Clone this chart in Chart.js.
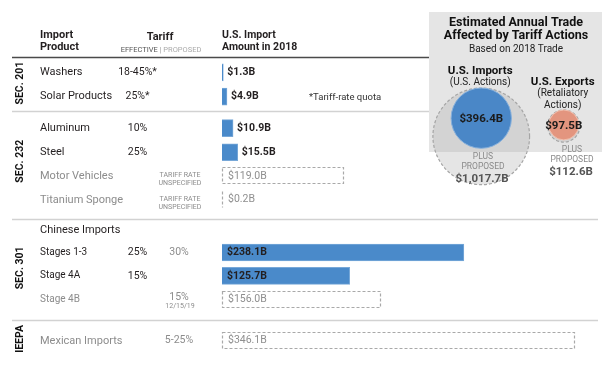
<!DOCTYPE html>
<html>
<head>
<meta charset="utf-8">
<script src="https://cdn.jsdelivr.net/npm/chart.js@4.4.1/dist/chart.umd.min.js"></script>
<style>
  html, body { margin: 0; padding: 0; background: #fff; }
  #wrap { position: relative; width: 614px; height: 365px; }
  #wrap canvas { position: absolute; left: 0; top: 0; }
</style>
</head>
<body>
<div id="wrap">
  <canvas id="cntTariff_Bars" width="614" height="365"></canvas>
  <canvas id="cntTariff_Bubbles" width="614" height="365"></canvas>
</div>
<script>
  // datos
  const sections = ['SEC. 201', 'SEC. 232', 'SEC. 301', 'IEEPA'];
  const products = ['Washers', 'Solar Products', 'Aluminum', 'Steel', 'Motor Vehicles', 'Titanium Sponge',
                    'Stages 1-3', 'Stage 4A', 'Stage 4B', 'Mexican Imports'];
  const importAmount = [1.3, 4.9, 10.9, 15.5, 119.0, 0.2, 238.1, 125.7, 156.0, 346.1];
  const proposedOnly = [false, false, false, false, true, true, false, false, true, true];
  const tariffEffective = ['18-45%*', '25%*', '10%', '25%', '', '', '25%', '15%', '', ''];
  const tariffProposed = [[], [], [], [], ['TARIFF RATE', 'UNSPECIFIED'], ['TARIFF RATE', 'UNSPECIFIED'],
                          ['30%'], [], ['15%', '12/15/19'], ['5-25%']];
  const subHeader = 'Chinese Imports';

  const tradeGroups = ['U.S. Imports', 'U.S. Exports'];
  const tradeNotes = [['(U.S. Actions)'], ['(Retaliatory', 'Actions)']];
  const tradeCurrent = [396.4, 97.5];
  const tradeWithProposed = [1017.7, 112.6];

  // layout (filas en unidades de fila)
  const ROW_SLOT = [0.65, 1.67, 3.0, 4.02, 5.02, 6.03, 8.25, 9.24, 10.23, 11.98];
  const SUBHEADER_SLOT = 7.3;
  const SECTION_SLOT = [1.1, 4.4, 8.9, 11.9];
  const RULE_SLOT = [2.27, 6.82, 11.1];

  const FONT = 'Roboto, "Noto Sans", sans-serif';
  const DARK = '#231f20', GRAY = '#8c8c8c', BLUE = '#4a8aca';

  function txt(ctx, s, x, y, size, weight, color, align) {
    ctx.font = weight + ' ' + size + 'px ' + FONT;
    ctx.fillStyle = color;
    ctx.textAlign = align || 'left';
    ctx.textBaseline = 'middle';
    ctx.fillText(s, x, y);
  }

  const effData = [], propData = [];
  products.forEach(function (p, i) {
    const pt = { x: importAmount[i], y: ROW_SLOT[i] };
    if (proposedOnly[i]) propData.push(pt); else effData.push(pt);
  });

  const tablePlugin = {
    id: 'tabla',
    afterDraw: function (chart) {
      const ctx = chart.ctx, yS = chart.scales.y;
      ctx.save();

      // cajas punteadas de lo propuesto
      const meta = chart.getDatasetMeta(1);
      ctx.setLineDash([3, 2]);
      ctx.strokeStyle = '#a9a9a9';
      ctx.lineWidth = 1.2;
      meta.data.forEach(function (el) {
        const p = el.getProps(['x', 'base', 'y', 'height'], true);
        const x0 = Math.round(p.base) + 0.5, x1 = Math.round(p.x) + 0.5;
        const y0 = Math.round(p.y - p.height / 2) + 0.5, y1 = Math.round(p.y + p.height / 2) - 0.5;
        ctx.beginPath();
        if (x1 - x0 < 2) { ctx.moveTo(x0, y0); ctx.lineTo(x0, y1); }
        else ctx.rect(x0, y0, x1 - x0, y1 - y0);
        ctx.stroke();
      });
      ctx.setLineDash([]);

      // lineas
      ctx.strokeStyle = '#4a4a4a';
      ctx.lineWidth = 1.3;
      ctx.beginPath(); ctx.moveTo(12, 57.5); ctx.lineTo(430, 57.5); ctx.stroke();
      ctx.strokeStyle = '#d2d2d2';
      ctx.lineWidth = 1.5;
      RULE_SLOT.forEach(function (s) {
        const y = Math.round(yS.getPixelForValue(s)) + 0.5;
        ctx.beginPath(); ctx.moveTo(12, y); ctx.lineTo(598, y); ctx.stroke();
      });

      // encabezados
      txt(ctx, 'Import', 40, 35, 11, 'bold', DARK);
      txt(ctx, 'Product', 40, 47, 11, 'bold', DARK);
      txt(ctx, 'Tariff', 160, 37, 11, 'bold', DARK, 'center');
      ctx.font = '7.5px ' + FONT;
      const wE = ctx.measureText('EFFECTIVE ').width, wB = ctx.measureText('| ').width;
      const wP = ctx.measureText('PROPOSED').width;
      let hx = 161 - (wE + wB + wP) / 2;
      txt(ctx, 'EFFECTIVE ', hx, 50.5, 7.5, 'normal', '#555'); hx += wE;
      txt(ctx, '| ', hx, 50.5, 7.5, 'normal', '#999'); hx += wB;
      txt(ctx, 'PROPOSED', hx, 50.5, 7.5, 'normal', '#aaa');
      txt(ctx, 'U.S. Import', 222, 35, 10.5, 'bold', DARK);
      txt(ctx, 'Amount in 2018', 222, 47, 10.5, 'bold', DARK);
      txt(ctx, '*Tariff-rate quota', 309, 98, 9.5, 'normal', '#333');

      // secciones (vertical)
      sections.forEach(function (s, i) {
        ctx.save();
        ctx.translate(20, yS.getPixelForValue(SECTION_SLOT[i]));
        ctx.rotate(-Math.PI / 2);
        txt(ctx, s, 0, 0, 10.5, 'bold', '#111', 'center');
        ctx.restore();
      });

      txt(ctx, subHeader, 40, yS.getPixelForValue(SUBHEADER_SLOT), 11, 'normal', DARK);

      // filas
      products.forEach(function (p, i) {
        const y = yS.getPixelForValue(ROW_SLOT[i]);
        const small = p.indexOf('Stage') === 0;
        txt(ctx, p, 40, y, small ? 10 : 11, 'normal', proposedOnly[i] ? GRAY : DARK);
        if (tariffEffective[i]) txt(ctx, tariffEffective[i], 137.5, y, 10.5, 'normal', DARK, 'center');
        const tp = tariffProposed[i];
        if (tp.length === 1) txt(ctx, tp[0], 179, y, 10.5, 'normal', GRAY, 'center');
        if (tp.length === 2) {
          if (tp[0] === 'TARIFF RATE') {
            txt(ctx, tp[0], 180, y - 1, 7, 'normal', GRAY, 'center');
            txt(ctx, tp[1], 180, y + 7, 7, 'normal', GRAY, 'center');
          } else {
            txt(ctx, tp[0], 179, y - 2, 10.5, 'normal', GRAY, 'center');
            txt(ctx, tp[1], 180, y + 7, 7, 'normal', GRAY, 'center');
          }
        }
      });

      // etiquetas de valor
      const xS = chart.scales.x;
      products.forEach(function (p, i) {
        const y = yS.getPixelForValue(ROW_SLOT[i]);
        const label = '$' + importAmount[i].toFixed(1) + 'B';
        const x0 = xS.getPixelForValue(0), x1 = xS.getPixelForValue(importAmount[i]);
        if (proposedOnly[i]) txt(ctx, label, x0 + 6, y, 10.5, 'normal', '#8f8f8f');
        else if (importAmount[i] > 50) txt(ctx, label, x0 + 5, y, 10.5, 'bold', DARK);
        else txt(ctx, label, x1 + 4, y, 10.5, 'bold', DARK);
      });
      ctx.restore();
    }
  };

  new Chart(document.getElementById('cntTariff_Bars').getContext('2d'), {
    type: 'bar',
    data: {
      datasets: [
        { label: 'Efectivo', data: effData, backgroundColor: BLUE, borderColor: '#78a8d8', borderWidth: 1 },
        { label: 'Propuesto', data: propData, backgroundColor: 'rgba(0,0,0,0)', borderWidth: 0 }
      ]
    },
    options: {
      responsive: false,
      animation: false,
      indexAxis: 'y',
      barThickness: 17,
      grouped: false,
      layout: { autoPadding: false, padding: { left: 222, right: 6, top: 57, bottom: 0 } },
      scales: {
        x: { type: 'linear', min: 0, max: 380, offset: false, display: false },
        y: { type: 'linear', min: 0, max: 13, reverse: true, offset: false, display: false }
      },
      plugins: { legend: { display: false }, tooltip: { enabled: false } }
    },
    plugins: [tablePlugin]
  });

  // burbujas
  const K = 1.515;            // px por raiz de mil millones
  const GROUP_TOP = [0, 14.5]; // desplazamiento de cada grupo
  const panelPlugin = {
    id: 'panel',
    beforeDatasetsDraw: function (chart) {
      const ctx = chart.ctx;
      ctx.save();
      ctx.fillStyle = '#e5e5e5';
      ctx.fillRect(429, 12, 173, 140);
      ctx.restore();
    },
    afterDatasetDraw: function (chart, args) {
      if (args.index !== 1) return;
      const ctx = chart.ctx;
      ctx.save();
      ctx.setLineDash([3, 2]);
      ctx.strokeStyle = '#a5a5a5';
      ctx.lineWidth = 1.2;
      args.meta.data.forEach(function (el) {
        ctx.beginPath();
        ctx.arc(el.x, el.y, el.options.radius, 0, Math.PI * 2);
        ctx.stroke();
      });
      ctx.restore();
    },
    afterDraw: function (chart) {
      const ctx = chart.ctx, xS = chart.scales.x;
      const cur = chart.getDatasetMeta(0).data;
      ctx.save();
      txt(ctx, 'Estimated Annual Trade', 516, 23, 12.5, 'bold', '#111', 'center');
      txt(ctx, 'Affected by Tariff Actions', 516, 36, 12.5, 'bold', '#111', 'center');
      txt(ctx, 'Based on 2018 Trade', 516, 49, 10, 'normal', '#222', 'center');
      const headY = [71, 82];
      tradeGroups.forEach(function (g, i) {
        const cx = xS.getPixelForValue(i);
        txt(ctx, g, cx - 1, headY[i], 11.5, 'bold', '#111', 'center');
        tradeNotes[i].forEach(function (n, j) {
          txt(ctx, n, cx - 1, headY[i] + 11.5 + j * 12, 10, 'normal', '#222', 'center');
        });
        txt(ctx, '$' + tradeCurrent[i].toFixed(1) + 'B', cur[i].x, cur[i].y + 1, 11.5, 'bold', '#1b1b1b', 'center');
      });
      const plusX = [483, 572], plusY = [157, 150];
      tradeWithProposed.forEach(function (v, i) {
        txt(ctx, 'PLUS', plusX[i], plusY[i], 8.5, 'normal', '#8a8a8a', 'center');
        txt(ctx, 'PROPOSED', plusX[i], plusY[i] + 10, 8.5, 'normal', '#8a8a8a', 'center');
        txt(ctx, '$' + v.toLocaleString('en-US', { minimumFractionDigits: 1 }) + 'B',
            plusX[i] - 1, plusY[i] + 22, 11.5, 'bold', '#555', 'center');
      });
      ctx.restore();
    }
  };

  new Chart(document.getElementById('cntTariff_Bubbles').getContext('2d'), {
    type: 'bubble',
    data: {
      datasets: [
        {
          label: 'Actual',
          data: tradeCurrent.map(function (v, i) { return { x: i, y: GROUP_TOP[i] + Math.sqrt(v), r: K * Math.sqrt(v) }; }),
          backgroundColor: ['#4a87c7', '#e3957f'],
          borderColor: ['#86b0dc', '#f0bfae'],
          borderWidth: 1,
          clip: false
        },
        {
          label: 'Con propuestas',
          data: tradeWithProposed.map(function (v, i) { return { x: i, y: GROUP_TOP[i] + Math.sqrt(v), r: K * Math.sqrt(v) }; }),
          backgroundColor: 'rgba(170,170,170,0.3)',
          borderWidth: 0,
          clip: false
        }
      ]
    },
    options: {
      responsive: false,
      animation: false,
      layout: { autoPadding: false, padding: { left: 440, right: 9, top: 88, bottom: 0 } },
      scales: {
        x: { type: 'linear', min: -0.5, max: 1.5, offset: false, display: false },
        y: { type: 'linear', min: 0, max: (365 - 88) / K, reverse: true, offset: false, display: false }
      },
      plugins: { legend: { display: false }, tooltip: { enabled: false } }
    },
    plugins: [panelPlugin]
  });
</script>
</body>
</html>
